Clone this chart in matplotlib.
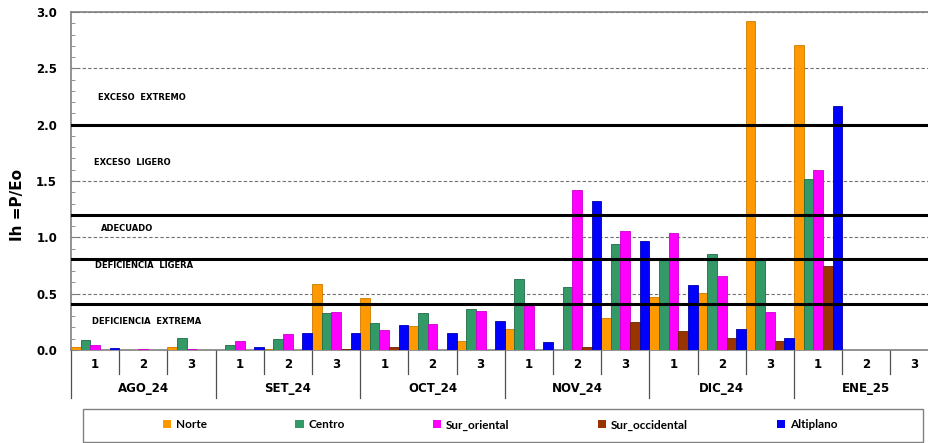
import numpy as np
import matplotlib.pyplot as plt
from matplotlib.patches import Patch, Rectangle
from matplotlib.ticker import MultipleLocator, FormatStrFormatter

# datos por decadal (AGO_24 .. ENE_25, 3 decadas por mes)
months = ['AGO_24', 'SET_24', 'OCT_24', 'NOV_24', 'DIC_24', 'ENE_25']
dekads = ['1', '2', '3']
series = ['Norte', 'Centro', 'Sur_oriental', 'Sur_occidental', 'Altiplano']
colors = ['#FF9900', '#339966', '#FF00FF', '#993300', '#0000FF']
edges = ['#CC7A00', '#1F6B47', '#CC00CC', '#6B2400', '#0000AA']

norte = [0.03, 0.0, 0.03, 0.0, 0.005, 0.59, 0.46, 0.21, 0.08,
         0.185, 0.0, 0.28, 0.47, 0.505, 2.92, 2.71, np.nan, np.nan]
centro = [0.09, 0.0, 0.11, 0.04, 0.10, 0.33, 0.24, 0.33, 0.36,
          0.63, 0.56, 0.94, 0.82, 0.85, 0.80, 1.515, np.nan, np.nan]
sur_oriental = [0.04, 0.01, 0.01, 0.08, 0.14, 0.34, 0.18, 0.235, 0.345,
                0.39, 1.42, 1.055, 1.04, 0.655, 0.34, 1.60, np.nan, np.nan]
sur_occidental = [0.0, 0.0, 0.0, 0.0, 0.0, 0.01, 0.03, 0.0, 0.0,
                  0.0, 0.03, 0.25, 0.17, 0.11, 0.08, 0.745, np.nan, np.nan]
altiplano = [0.02, 0.0, 0.0, 0.03, 0.15, 0.155, 0.22, 0.155, 0.26,
             0.07, 1.32, 0.965, 0.58, 0.19, 0.11, 2.17, np.nan, np.nan]

thresholds = [2.0, 1.2, 0.81, 0.41]
zones = ['EXCESO  EXTREMO', 'EXCESO  LIGERO', 'ADECUADO',
         'DEFICIENCIA  LIGERA', 'DEFICIENCIA  EXTREMA']


def main():
    W, H = 929, 443
    fig = plt.figure(figsize=(W / 100, H / 100), dpi=100)
    ax = fig.add_axes([71 / W, 93 / H, 867.6 / W, 338 / H])

    data = [norte, centro, sur_oriental, sur_occidental, altiplano]
    n = len(norte)
    x = np.arange(n)
    bw = 0.2
    for k, vals in enumerate(data):
        vals = np.array(vals, dtype=float)
        lw = [0.6 if v > 0 else 0 for v in np.nan_to_num(vals)]
        ax.bar(x + bw * (k + 0.5), vals, width=bw, color=colors[k],
               edgecolor=edges[k], linewidth=lw, zorder=3)

    for t in thresholds:
        ax.axhline(t, color='black', lw=2.2, zorder=4)

    ax.set_xlim(0, n)
    ax.set_ylim(0, 3.0)
    ax.yaxis.set_major_locator(MultipleLocator(0.5))
    ax.yaxis.set_minor_locator(MultipleLocator(0.1))
    ax.yaxis.set_major_formatter(FormatStrFormatter('%.1f'))
    ax.grid(axis='y', which='major', color='#707070', ls=(0, (3, 2)), lw=0.8, zorder=1)
    ax.tick_params(axis='y', which='both', direction='in', color='#808080', pad=10,
                   labelsize=8.5)
    ax.tick_params(axis='y', which='minor', length=3)
    ax.tick_params(axis='y', which='major', length=4)
    for lab in ax.get_yticklabels():
        lab.set_fontweight('bold')
    ax.set_xticks([])
    for s in ['left', 'bottom', 'top']:
        ax.spines[s].set_color('#808080')
        ax.spines[s].set_linewidth(1.2)
    ax.spines['right'].set_visible(False)

    # etiquetas de las zonas
    zone_pos = [(0.56, 2.24), (0.48, 1.66), (0.62, 1.08), (0.50, 0.75), (0.44, 0.256)]
    for (zx, zy), txt in zip(zone_pos, zones):
        ax.text(zx, zy, txt, fontsize=6, fontweight='bold', va='center', ha='left', zorder=5)

    # eje x en dos niveles
    tr = ax.get_xaxis_transform()
    for i in range(n + 1):
        y_end = -0.142 if i % 3 == 0 else -0.071
        ax.plot([i, i], [0, y_end], transform=tr, clip_on=False, color='#505050', lw=0.9)
    for i in range(n):
        ax.text(i + 0.5, -0.044, dekads[i % 3], transform=tr, ha='center', va='center',
                fontsize=8.5, fontweight='bold')
    for m, name in enumerate(months):
        ax.text(3 * m + 1.5, -0.115, name, transform=tr, ha='center', va='center',
                fontsize=8.5, fontweight='bold')

    fig.text(18 / W, 1 - 205 / H, 'Ih =P/Eo', rotation=90, ha='center', va='center',
             fontsize=11, fontweight='bold')

    # leyenda
    fig.patches.append(Rectangle((83 / W, 1 / H), 840 / W, 33 / H, transform=fig.transFigure,
                                 fill=False, edgecolor='#808080', lw=1))
    handles = [Patch(facecolor=c) for c in colors]
    fig.legend(handles, series, loc='center', bbox_to_anchor=(500 / W, 1 - 425 / H), ncol=5,
               frameon=False, columnspacing=7.5, handlelength=0.7, handleheight=0.7,
               handletextpad=0.4, prop={'family': 'Lato', 'weight': 'bold', 'size': 8.5})

    fig.savefig('out.png', dpi=100)


if __name__ == '__main__':
    main()
